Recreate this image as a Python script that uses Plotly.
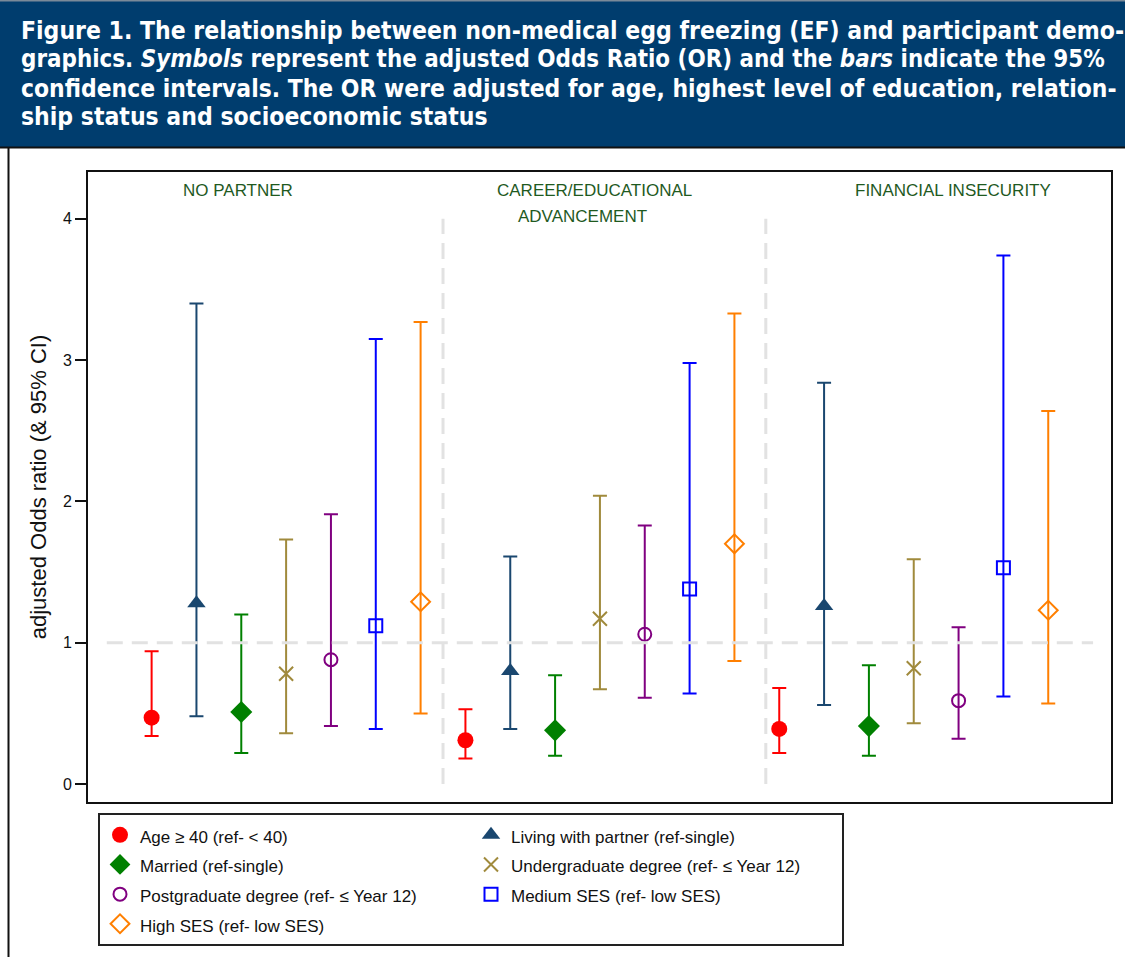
import plotly.graph_objects as go

# Outcome panels and predictor labels
outcomes = ["NO PARTNER", "CAREER/EDUCATIONAL", "FINANCIAL INSECURITY"]
predictors = [
    "Age ≥ 40 (ref- &lt; 40)",
    "Living with partner (ref-single)",
    "Married (ref-single)",
    "Undergraduate degree (ref- ≤ Year 12)",
    "Postgraduate degree (ref- ≤ Year 12)",
    "Medium SES (ref- low SES)",
    "High SES (ref- low SES)",
]

# Adjusted odds ratios and 95% CI bounds, predictors in the order above
or_no_partner = [0.47, 1.28, 0.51, 0.78, 0.88, 1.12, 1.29]
lo_no_partner = [0.34, 0.48, 0.22, 0.36, 0.41, 0.39, 0.50]
hi_no_partner = [0.94, 3.40, 1.20, 1.73, 1.91, 3.15, 3.27]

or_career = [0.31, 0.80, 0.38, 1.17, 1.06, 1.38, 1.70]
lo_career = [0.18, 0.39, 0.20, 0.67, 0.61, 0.64, 0.87]
hi_career = [0.53, 1.61, 0.77, 2.04, 1.83, 2.98, 3.33]

or_financial = [0.39, 1.26, 0.41, 0.82, 0.59, 1.53, 1.23]
lo_financial = [0.22, 0.56, 0.20, 0.43, 0.32, 0.62, 0.57]
hi_financial = [0.68, 2.84, 0.84, 1.59, 1.11, 3.74, 2.64]

y_ticks = [0, 1, 2, 3, 4]

panel_or = [or_no_partner, or_career, or_financial]
panel_lo = [lo_no_partner, lo_career, lo_financial]
panel_hi = [hi_no_partner, hi_career, hi_financial]

# Marker style per predictor
styles = [
    dict(color="#ff0000", symbol="circle", size=16, lw=0),
    dict(color="#1a476f", symbol="triangle-up", size=16, lw=0),
    dict(color="#008000", symbol="diamond", size=17, lw=0),
    dict(color="#a08a3c", symbol="x-thin", size=14, lw=2),
    dict(color="#800080", symbol="circle-open", size=13, lw=2),
    dict(color="#0000ff", symbol="square-open", size=13, lw=2),
    dict(color="#ff7f00", symbol="diamond-open", size=14.5, lw=2),
]

W, H = 1125, 957
ML, MR, MT, MB = 88, 14, 172, 155
PW, PH = W - ML - MR, H - MT - MB


def px_x(p):
    return (p - ML) / PW


def px_y(p):
    return (H - MB - p) / PH


FONT = "Liberation Sans, Arial, sans-serif"
CAPTION_FONT = "DejaVu Sans Condensed, Liberation Sans, sans-serif"
n_pred = len(predictors)

fig = go.Figure()
for j, (name, st) in enumerate(zip(predictors, styles)):
    xs = [k * n_pred + j + 1 for k in range(len(outcomes))]
    ors = [panel_or[k][j] for k in range(len(outcomes))]
    los = [panel_lo[k][j] for k in range(len(outcomes))]
    his = [panel_hi[k][j] for k in range(len(outcomes))]
    fig.add_trace(go.Scatter(
        x=xs, y=ors, mode="markers",
        name=f'<span style="font-size:17px">{name}</span>',
        marker=dict(symbol=st["symbol"], size=st["size"], color=st["color"],
                    line=dict(width=st["lw"], color=st["color"])),
        error_y=dict(type="data", symmetric=False,
                     array=[h - o for h, o in zip(his, ors)],
                     arrayminus=[o - l for o, l in zip(ors, los)],
                     color=st["color"], thickness=2, width=7),
    ))

dash_grey = dict(color="#e2e2e2", width=3, dash="16px,9px")
shapes = [
    # reference line at OR = 1
    dict(type="line", xref="x", yref="y", x0=0, x1=22, y0=1, y1=1,
         line=dash_grey, layer="above"),
    # panel dividers
    dict(type="line", xref="x", yref="y", x0=7.5, x1=7.5, y0=0, y1=4,
         line=dash_grey, layer="above"),
    dict(type="line", xref="x", yref="y", x0=14.7, x1=14.7, y0=0, y1=4,
         line=dash_grey, layer="above"),
    # caption banner
    dict(type="rect", xref="paper", yref="paper",
         x0=px_x(0), x1=px_x(W), y0=px_y(147), y1=px_y(0),
         fillcolor="#003d6e", line=dict(width=0), layer="below"),
    dict(type="line", xref="paper", yref="paper",
         x0=px_x(0), x1=px_x(W), y0=px_y(147.5), y1=px_y(147.5),
         line=dict(color="#111111", width=2)),
    dict(type="line", xref="paper", yref="paper",
         x0=px_x(0), x1=px_x(W), y0=px_y(0.8), y1=px_y(0.8),
         line=dict(color="#7a8a99", width=1.5)),
    # figure frame, left edge
    dict(type="line", xref="paper", yref="paper",
         x0=px_x(8.5), x1=px_x(8.5), y0=px_y(148), y1=px_y(H),
         line=dict(color="#111111", width=2)),
]

label_color = "#1f5a1f"
annotations = [
    dict(x=2.92, y=4.2, text=outcomes[0]),
    dict(x=10.87, y=4.2, text=outcomes[1]),
    dict(x=10.62, y=4.015, text="ADVANCEMENT"),
    dict(x=18.88, y=4.2, text=outcomes[2]),
]
annotations = [dict(a, xref="x", yref="y", showarrow=False,
                    font=dict(family=FONT, size=17, color=label_color))
               for a in annotations]

caption = [
    "<b>Figure 1. The relationship between non-medical egg freezing (EF) and participant demo-</b>",
    "<b>graphics. <i>Symbols</i> represent the adjusted Odds Ratio (OR) and the <i>bars</i> indicate the 95%</b>",
    "<b>confidence intervals. The OR were adjusted for age, highest level of education, relation-</b>",
    "<b>ship status and socioeconomic status</b>",
]
caption_sizes = [24.5, 23.9, 24.4, 24.5]
for i, (line, fs) in enumerate(zip(caption, caption_sizes)):
    annotations.append(dict(
        xref="paper", yref="paper", x=px_x(19), y=px_y(31 + 28.5 * i),
        xanchor="left", yanchor="middle", align="left", showarrow=False,
        text=line,
        font=dict(family=CAPTION_FONT, size=fs, color="white"),
    ))

fig.update_layout(
    width=W, height=H,
    margin=dict(l=ML, r=MR, t=MT, b=MB, autoexpand=False),
    paper_bgcolor="white", plot_bgcolor="white",
    font=dict(family=FONT, color="#111111"),
    showlegend=True,
    legend=dict(
        orientation="h", x=px_x(98), y=px_y(813), xanchor="left", yanchor="top",
        entrywidth=326, entrywidthmode="pixels", itemsizing="trace",
        font=dict(family=FONT, size=20.5, color="#111111"),
        bordercolor="#222222", borderwidth=2, bgcolor="white",
        traceorder="normal",
    ),
    shapes=shapes,
    annotations=annotations,
)
fig.update_xaxes(
    range=[-0.419, 22.40], showticklabels=False, ticks="", showgrid=False,
    zeroline=False, showline=True, linecolor="#111111", linewidth=2, mirror=True,
)
fig.update_yaxes(
    range=[-0.127, 4.331], tickvals=y_ticks, ticks="outside", ticklen=11,
    tickwidth=2, tickcolor="#111111", showgrid=False, zeroline=False,
    showline=True, linecolor="#111111", linewidth=2, mirror=True,
    tickfont=dict(family=FONT, size=16, color="#111111"),
    title=dict(text="adjusted Odds ratio (& 95% CI)", standoff=10,
               font=dict(family=FONT, size=22, color="#111111")),
)

fig.write_html("out.html")
